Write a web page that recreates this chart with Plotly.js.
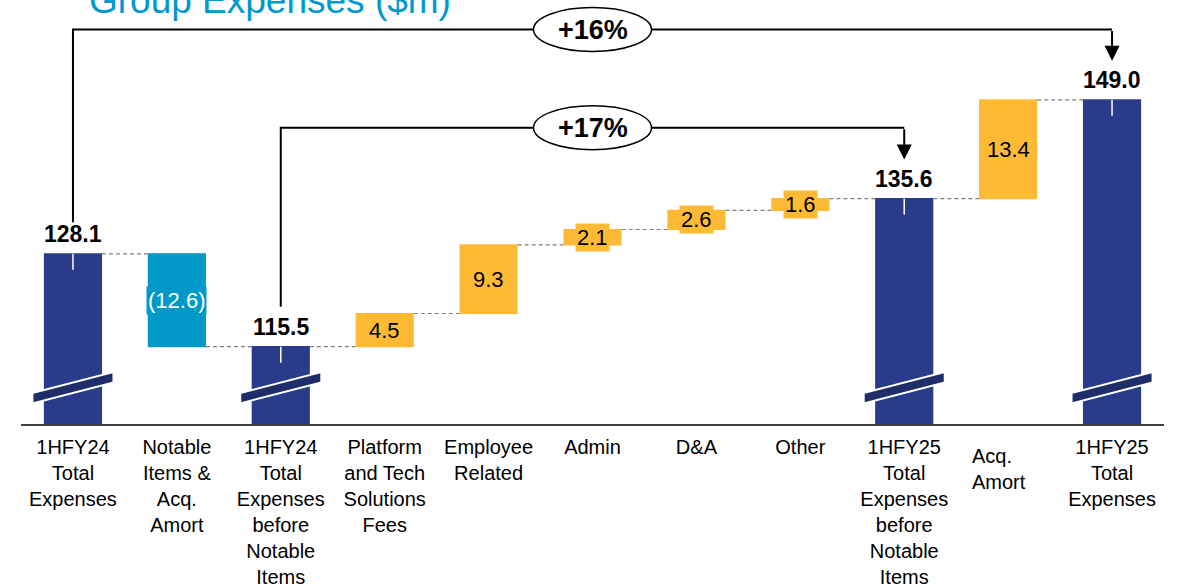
<!DOCTYPE html>
<html>
<head>
<meta charset="utf-8">
<script src="https://cdn.plot.ly/plotly-3.0.1.min.js"></script>
<style>html,body{margin:0;padding:0;background:#fff;}#chart{width:1183px;height:587px;}</style>
</head>
<body>
<div id="chart"></div>
<script>
// ---- data ----
const categories = [
  "1HFY24<br>Total<br>Expenses",
  "Notable<br>Items &<br>Acq.<br>Amort",
  "1HFY24<br>Total<br>Expenses<br>before<br>Notable<br>Items",
  "Platform<br>and Tech<br>Solutions<br>Fees",
  "Employee<br>Related",
  "Admin",
  "D&A",
  "Other",
  "1HFY25<br>Total<br>Expenses<br>before<br>Notable<br>Items",
  "Acq.<br>Amort",
  "1HFY25<br>Total<br>Expenses"
];
const measures = ["absolute","relative","total","relative","relative","relative","relative","relative","total","relative","total"];
const values = [128.1, -12.6, 0, 4.5, 9.3, 2.1, 2.6, 1.6, 0, 13.4, 0];
const growthLabels = ["+16%", "+17%"];
const growthFrom = [0, 2];
const growthTo = [10, 8];
const titleText = "Group Expenses ($m)";

// ---- styles ----
const FONT = "Liberation Sans, Arial, sans-serif";
const C_TOTAL = "#293B8A", C_INC = "#FDBB35", C_DEC = "#0099C8", C_BREAK = "#1F2D6B";
const Y_MIN = 105, Y_MAX = 162.55;
const PX = 424 / (Y_MAX - Y_MIN); // px per unit

// running totals
const starts = [], ends = [];
let run = 0;
values.forEach((v, i) => {
  if (measures[i] === "absolute") { starts.push(Y_MIN); run = v; ends.push(run); }
  else if (measures[i] === "total") { starts.push(Y_MIN); ends.push(run); }
  else { starts.push(run); run = +(run + v).toFixed(1); ends.push(run); }
});
const idx = categories.map((c, i) => i);
const isTot = measures.map(m => m !== "relative");

const trace = {
  type: "waterfall",
  x: idx, y: values, measure: measures,
  textinfo: "none", hoverinfo: "skip",
  connector: { mode: "between", line: { color: "#7f7f7f", width: 1.2, dash: "4px,3px" } },
  increasing: { marker: { color: C_INC } },
  decreasing: { marker: { color: C_DEC } },
  totals: { marker: { color: C_TOTAL } }
};

const shapes = [], annotations = [];

// break marks and small white ticks on total bars
idx.forEach(i => {
  if (!isTot[i]) return;
  const b = 107.8, th = 1.4, rise = 2.85, hw = 0.39;
  shapes.push({ type: "path", xref: "x", yref: "y", layer: "above",
    path: `M${i-hw},${b} L${i-hw},${b+th} L${i+hw},${b+th+rise} L${i+hw},${b+rise} Z`,
    fillcolor: C_BREAK, line: { color: "#ffffff", width: 2 } });
  shapes.push({ type: "line", xref: "x", yref: "y", layer: "above",
    x0: i, x1: i, y0: ends[i], y1: ends[i] - 16 / PX, line: { color: "#ffffff", width: 1.5 } });
});

// value labels
idx.forEach(i => {
  const v = isTot[i] ? ends[i] : values[i];
  if (isTot[i]) {
    annotations.push({ x: i, y: ends[i], xref: "x", yref: "y", yanchor: "bottom", yshift: 5,
      text: "<b>" + v.toFixed(1) + "</b>", showarrow: false,
      font: { family: FONT, size: 23, color: "#000" } });
  } else {
    const neg = v < 0;
    annotations.push({ x: i, y: (starts[i] + ends[i]) / 2, xref: "x", yref: "y", yanchor: "middle",
      text: neg ? "(" + Math.abs(v).toFixed(1) + ")" : v.toFixed(1), showarrow: false,
      bgcolor: neg ? C_DEC : C_INC, borderpad: 1,
      font: { family: FONT, size: 22, color: neg ? "#ffffff" : "#000000" } });
  }
});

// growth brackets
const levelPx = [29.5, 127.7];
growthLabels.forEach((lab, k) => {
  const a = growthFrom[k], b = growthTo[k];
  const yH = Y_MAX - levelPx[k] / PX;
  const y0 = ends[a] + (k === 0 ? 4.3 : 5.4);
  const tip = ends[b] + 5.3;
  const mid = (a + b) / 2;
  shapes.push({ type: "path", xref: "x", yref: "y", layer: "above",
    path: `M${a},${y0} L${a},${yH} L${b},${yH}`, line: { color: "#000", width: 2 } });
  shapes.push({ type: "circle", xref: "x", yref: "y", layer: "above",
    xsizemode: "pixel", ysizemode: "pixel", xanchor: mid, yanchor: yH,
    x0: -59, x1: 59, y0: -22, y1: 22, fillcolor: "#ffffff", line: { color: "#000", width: 1.5 } });
  annotations.push({ x: b, y: tip, xref: "x", yref: "y", ax: b, ay: yH, axref: "x", ayref: "y",
    text: "", showarrow: true, arrowhead: 2, arrowsize: 1.5, arrowwidth: 2, arrowcolor: "#000", standoff: 0 });
  annotations.push({ x: mid, y: yH, xref: "x", yref: "y", text: "<b>" + lab + "</b>", showarrow: false,
    font: { family: FONT, size: 27, color: "#000" } });
});

// title (partly above the top edge, as in the reference)
annotations.push({ xref: "paper", yref: "paper", x: 0.058, y: 1, xanchor: "left", yanchor: "middle",
  text: titleText, showarrow: false, font: { family: FONT, size: 37, color: "#0099CF" } });

// offset label for Acq. Amort
const ACQ = 9;
annotations.push({ xref: "x", yref: "paper", x: ACQ, xshift: -38, y: -0.045, xanchor: "left", yanchor: "top",
  align: "left", text: categories[ACQ], showarrow: false, font: { family: FONT, size: 20, color: "#000" } });

const layout = {
  width: 1183, height: 587,
  margin: { l: 21, r: 19, t: 0, b: 163 },
  paper_bgcolor: "#ffffff", plot_bgcolor: "#ffffff",
  showlegend: false, waterfallgap: 0.44,
  xaxis: { type: "linear", range: [-0.5, 10.5], tickvals: idx,
    ticktext: categories.map((c, i) => i === ACQ ? "" : c),
    tickangle: 0, ticks: "", showgrid: false, zeroline: false, ticklabelstandoff: 4,
    showline: true, linecolor: "#3f3f3f", linewidth: 1.5, fixedrange: true,
    tickfont: { family: FONT, size: 20, color: "#000" } },
  yaxis: { range: [Y_MIN, Y_MAX], visible: false, fixedrange: true },
  shapes: shapes, annotations: annotations
};

Plotly.newPlot("chart", [trace], layout, { displayModeBar: false, staticPlot: true });
</script>
</body>
</html>
